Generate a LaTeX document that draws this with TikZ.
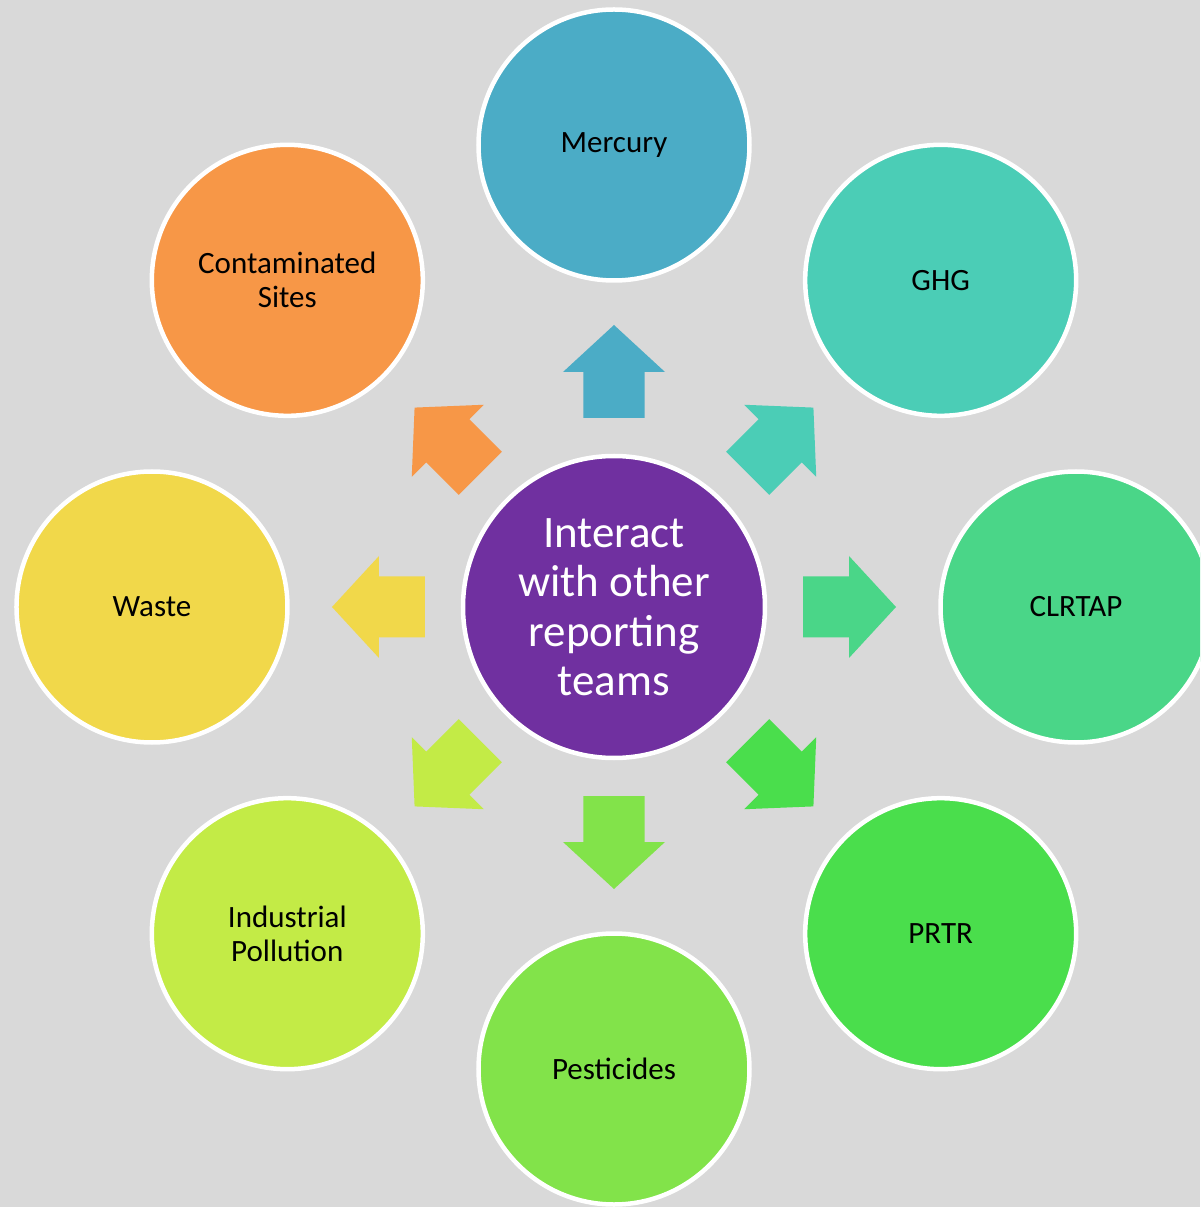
\documentclass[tikz,border=0pt]{standalone}
\usepackage{fontspec}
\setmainfont{Carlito}
\definecolor{bg}{RGB}{217,217,217}
\definecolor{cMercury}{RGB}{75,172,198}
\definecolor{cGHG}{RGB}{75,205,182}
\definecolor{cCLRTAP}{RGB}{74,214,136}
\definecolor{cPRTR}{RGB}{74,222,76}
\definecolor{cPest}{RGB}{130,227,74}
\definecolor{cInd}{RGB}{195,235,70}
\definecolor{cWaste}{RGB}{241,216,74}
\definecolor{cCont}{RGB}{247,151,71}
\definecolor{cCenter}{RGB}{112,48,160}
\tikzset{
  outer/.style={circle, draw=white, line width=4.5pt, minimum size=271pt, inner sep=0pt,
    align=center, text=black, font=\fontsize{31}{34}\selectfont},
  hub/.style={circle, draw=white, line width=4.5pt, minimum size=302pt, inner sep=0pt,
    align=center, text=white, fill=cCenter, font=\fontsize{45}{49.5}\selectfont}
}
\begin{document}
\begin{tikzpicture}[x=1pt,y=1pt]
\fill[bg] (-614,-600) rectangle (586,607);
\useasboundingbox (-614,-600) rectangle (586,607);
\begin{scope}
\clip (-614,-600) rectangle (586,607);
\foreach \ang/\col/\nm/\txt in {
  90/cMercury/mercury/Mercury,
  45/cGHG/ghg/GHG,
  0/cCLRTAP/clrtap/CLRTAP,
  -45/cPRTR/prtr/PRTR,
  -90/cPest/pest/Pesticides,
  -135/cInd/ind/{Industrial\\Pollution},
  180/cWaste/waste/Waste,
  135/cCont/cont/{Contaminated\\Sites}} {
  \node[outer, fill=\col] (\nm) at (\ang:462) {\txt};
  \begin{scope}[rotate=\ang]
    \fill[\col] (189,-30.5) -- (235,-30.5) -- (235,-51) -- (282,0) -- (235,51)
      -- (235,30.5) -- (189,30.5) -- cycle;
  \end{scope}
}
\node[hub] (center) at (0,0) {Interact\\with other\\reporting\\teams};
\end{scope}
\end{tikzpicture}
\end{document}
